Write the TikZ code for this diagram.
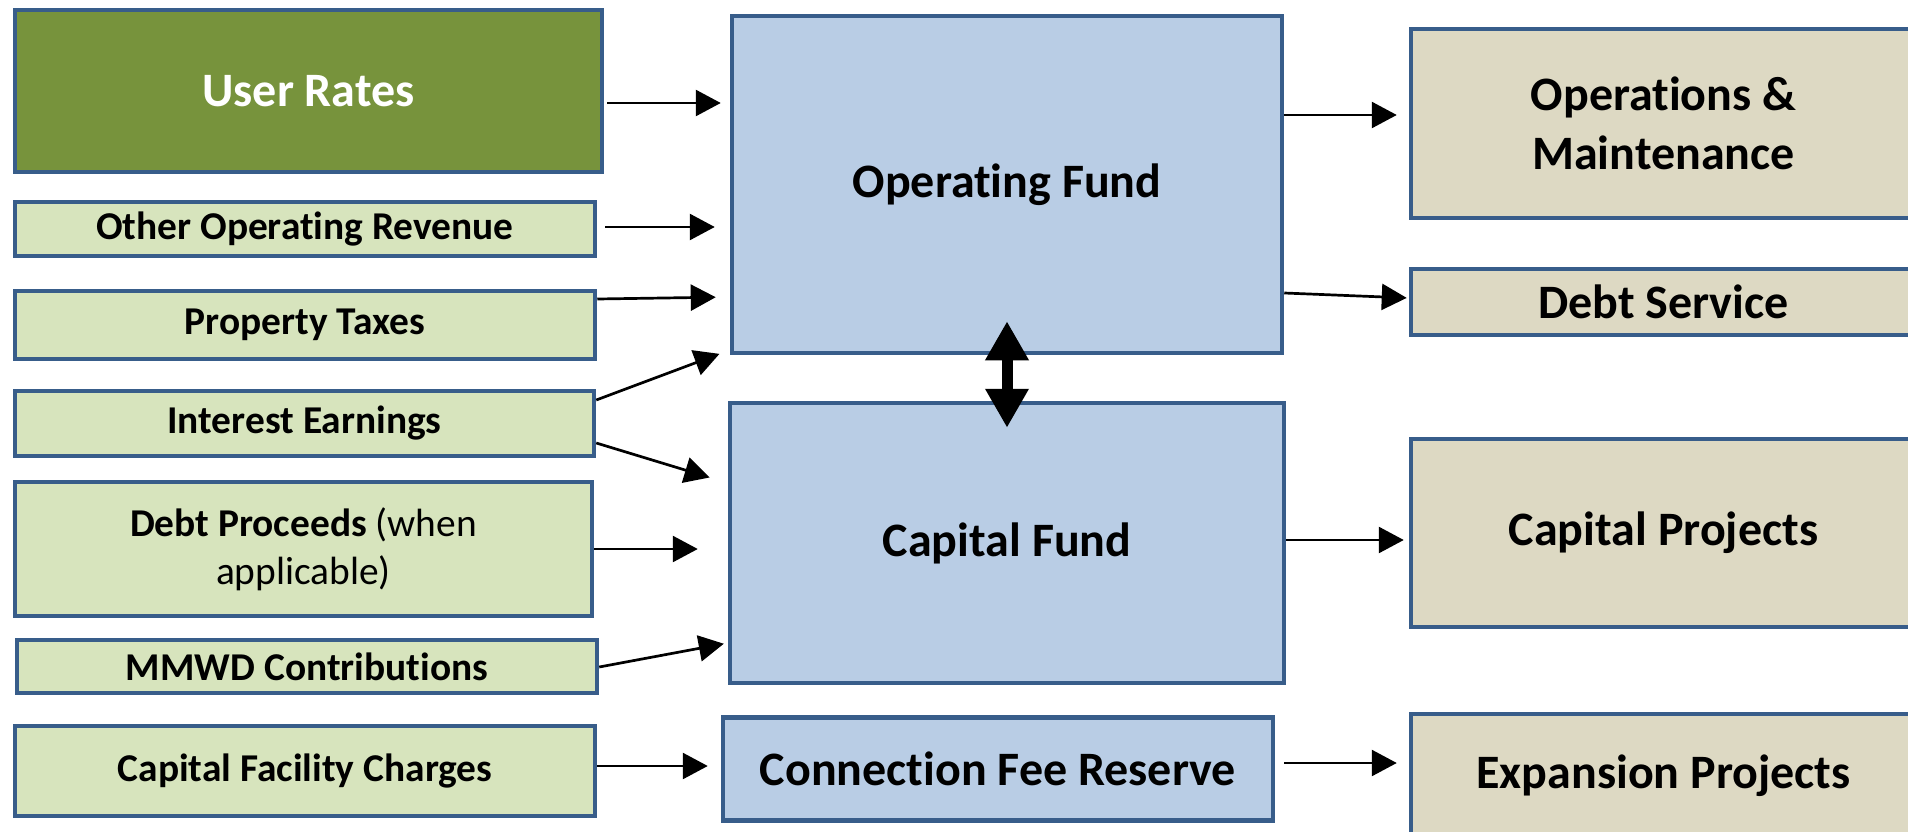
\documentclass[tikz,border=0pt]{standalone}
\usepackage{fontspec}
\setmainfont{Carlito}[Ligatures={NoCommon,NoRare,NoDiscretionary}]
\usetikzlibrary{arrows.meta}
\newcommand\nolig{\kern0pt }
\definecolor{bord}{HTML}{385D8A}
\definecolor{olivebox}{HTML}{77933C}
\definecolor{lgreen}{HTML}{D7E4BD}
\definecolor{lblue}{HTML}{B9CDE5}
\definecolor{tanbox}{HTML}{DDD9C3}
\begin{document}
\begin{tikzpicture}[x=1pt,y=-1pt,
  box/.style={draw=bord, line width=4.5pt, inner sep=0pt, align=center},
  src/.style={box, fill=lgreen, font=\fontsize{39.4}{48}\selectfont\bfseries},
  fund/.style={box, fill=lblue, font=\fontsize{48}{58.5}\selectfont\bfseries},
  usebox/.style={box, fill=tanbox, font=\fontsize{48}{58.5}\selectfont\bfseries},
  arr/.style={line width=2.7pt, -{Triangle[length=25pt,width=26pt]}},
  dbl/.style={line width=11pt, {Triangle[length=39pt,width=41pt]}-{Triangle[length=39pt,width=41pt]}}
]
\useasboundingbox (0,0) rectangle (1908,832);
\clip (0,0) rectangle (1908,832);

% sources
\node[box, fill=olivebox, text=white, font=\fontsize{48}{58.5}\selectfont\bfseries,
  minimum width=587pt, minimum height=162pt] (UR) at (308.5,91) {User Rates};
\node[src, minimum width=580pt, minimum height=54pt] (OOR) at (305,229) {Other Operat\nolig ing Revenue};
\node[src, minimum width=580pt, minimum height=68pt] (PT) at (305,325) {Property Taxes};
\node[src, minimum width=579pt, minimum height=65pt] (IE) at (304.5,423.5) {Interest Earnings};
\node[src, minimum width=577pt, minimum height=134pt] (DP) at (303.5,549) {Debt Proceeds \mdseries(when\\\mdseries applicable)};
\node[src, minimum width=580pt, minimum height=53pt] (MM) at (307,666.5) {MMWD Contribut\nolig ions};
\node[src, minimum width=580pt, minimum height=90pt] (CFC) at (305,771) {Capital Facility Charges};

% funds
\node[fund, minimum width=550pt, minimum height=337pt] (OF) at (1007,184.5) {Operat\nolig ing Fund};
\node[fund, minimum width=554pt, minimum height=280pt] (CF) at (1007,543) {Capital Fund};
\node[fund, minimum width=550pt, minimum height=103pt] (CFR) at (998,769) {Connect\nolig ion Fee Reserve};

% uses
\node[usebox, minimum width=505pt, minimum height=189pt] (OM) at (1663.5,123.5) {Operat\nolig ions \&\\Maintenance};
\node[usebox, minimum width=505pt, minimum height=66pt] (DS) at (1663.5,302) {Debt Service};
\node[usebox, minimum width=505pt, minimum height=188pt] (CP) at (1663.5,533) {Capital Projects};
\node[usebox, minimum width=505pt, minimum height=124pt] (EP) at (1663.5,776) {Expansion Projects};

% arrows into funds
\draw[arr, shorten <=3pt, shorten >=9pt] (UR.east |- 0,103) -- (OF.west |- 0,103);
\draw[arr, shorten <=8pt, shorten >=15pt] (OOR.east |- 0,227) -- (OF.west |- 0,227);
\draw[arr, shorten >=14pt] (PT.east |- 0,299) -- (OF.west |- 0,297);
\draw[arr, shorten >=11pt] (IE.east |- 0,400) -- (OF.west |- 0,350);
\draw[arr, shorten >=19pt] (IE.east |- 0,443) -- (CF.west |- 0,483);
\draw[arr, shorten >=30pt] (DP.east) -- (DP.east -| CF.west);
\draw[arr, shorten >=4pt] (MM.east |- 0,667) -- (CF.west |- 0,643);
\draw[arr, shorten >=13pt] (CFC.east |- 0,766) -- (CFR.west |- 0,766);

% arrows out of funds
\draw[arr, shorten >=12pt] (OF.east |- 0,115) -- (OM.west |- 0,115);
\draw[arr, shorten >=2pt] (OF.east |- 0,293) -- (DS.west |- 0,298);
\draw[arr, shorten >=5pt] (CF.east |- 0,540) -- (CP.west |- 0,540);
\draw[arr, shorten <=9pt, shorten >=12pt] (CFR.east |- 0,763) -- (EP.west |- 0,763);

% two-way transfer
\draw[dbl] ([yshift=34pt]OF.south) -- ([yshift=-27pt]CF.north);
\end{tikzpicture}
\end{document}
